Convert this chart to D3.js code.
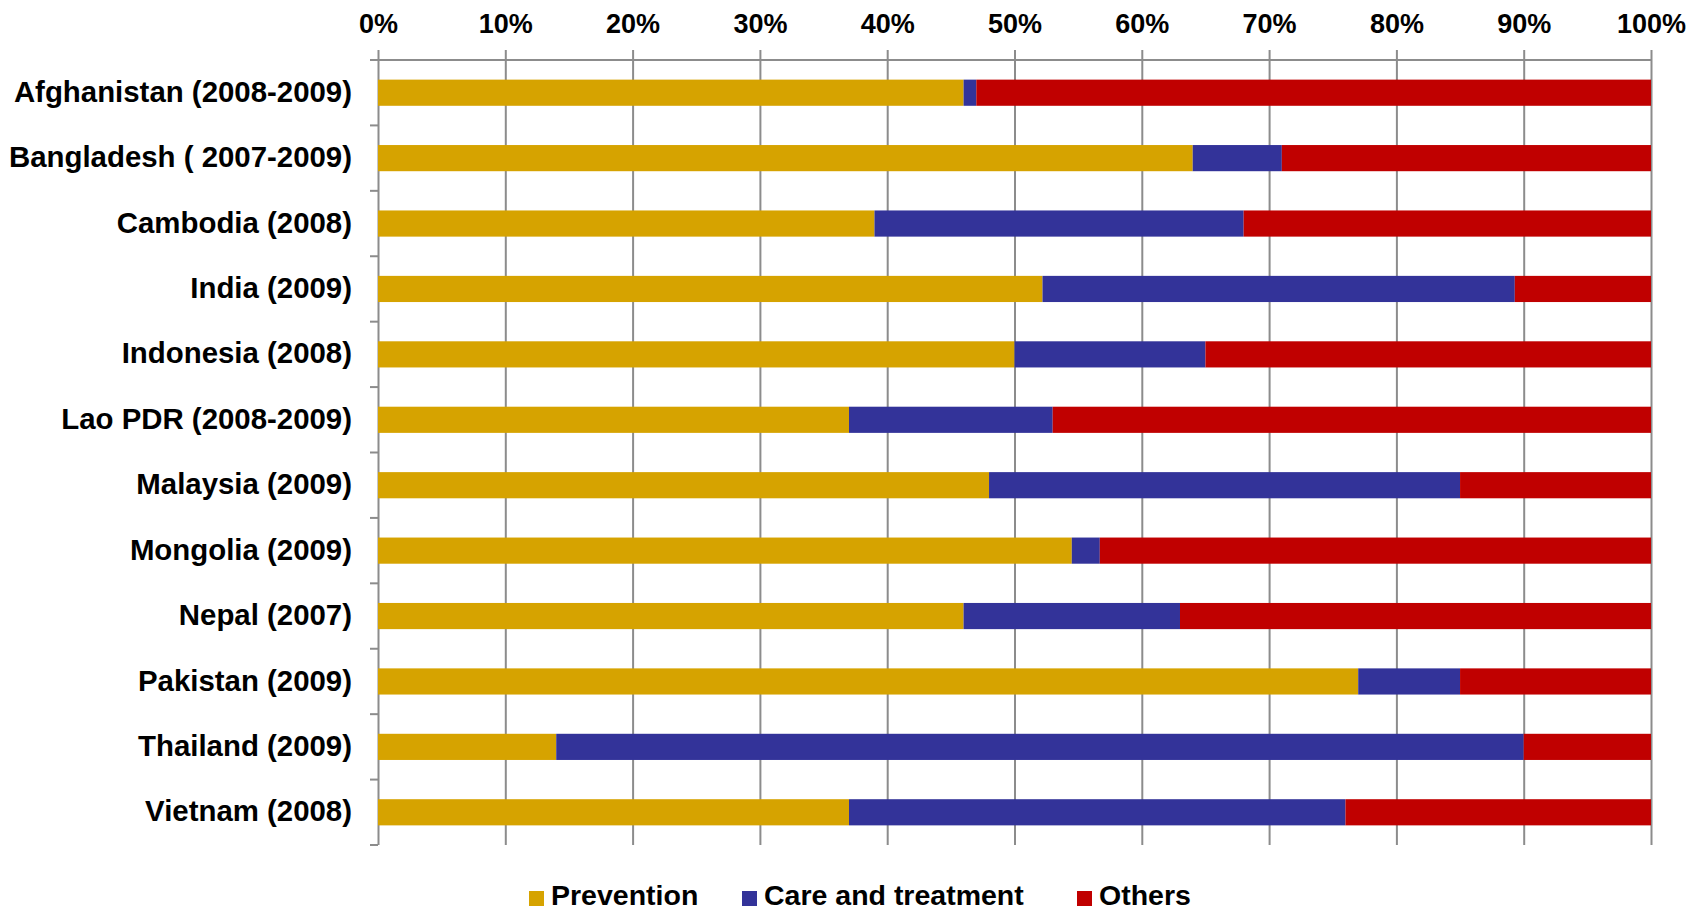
<!DOCTYPE html>
<html>
<head>
<meta charset="utf-8">
<script src="https://cdn.jsdelivr.net/npm/d3@7"></script>
<style>
  body { margin: 0; background: #fff; }
  text { font-family: "Liberation Sans", Arial, sans-serif; font-weight: bold; fill: #000; }
</style>
</head>
<body>
<script>
var width = 1699,
    height = 911;

// data (percent shares)
var countries = ['Afghanistan (2008-2009)', 'Bangladesh ( 2007-2009)', 'Cambodia (2008)', 'India (2009)',
    'Indonesia (2008)', 'Lao PDR (2008-2009)', 'Malaysia (2009)', 'Mongolia (2009)', 'Nepal (2007)',
    'Pakistan (2009)', 'Thailand (2009)', 'Vietnam (2008)'];
var prevention = [46, 64, 39, 52.2, 50, 37, 48, 54.5, 46, 77, 14, 37];
var care = [1, 7, 29, 37.1, 15, 16, 37, 2.2, 17, 8, 76, 39];
var others = [53, 29, 32, 10.7, 35, 47, 15, 43.3, 37, 15, 10, 24];
var seriesNames = ['Prevention', 'Care and treatment', 'Others'];
var seriesKeys = ['prevention', 'care', 'others'];
var colors = ['#D6A300', '#333399', '#C00000'];
var xTicks = [0, 10, 20, 30, 40, 50, 60, 70, 80, 90, 100];

var rows = countries.map(function (c, i) {
    return { country: c, prevention: prevention[i], care: care[i], others: others[i] };
});

var svg = d3.select('body').append('svg').attr('width', width).attr('height', height);

var plotTop = 60, plotBottom = 845, plotLeft = 378, plotRight = 1651;

var x = d3.scaleLinear().domain([0, 100]).range([plotLeft, plotRight]);
var y = d3.scaleBand().domain(countries).range([plotTop, plotBottom]).paddingInner(0.6).paddingOuter(0.3);

// x axis on top, ticks extended as gridlines
var xAxis = svg.append('g')
    .attr('transform', 'translate(0,' + plotTop + ')')
    .call(d3.axisTop(x).tickValues(xTicks).tickFormat(function (d) { return d + '%'; })
        .tickSizeInner(-(plotBottom - plotTop)).tickSizeOuter(0).tickPadding(27));
xAxis.select('.domain').attr('stroke', '#8c8c8c').attr('stroke-width', 2)
    .attr('d', 'M' + (plotLeft - 8) + ',0H' + plotRight);
xAxis.selectAll('.tick line').attr('stroke', '#8c8c8c').attr('stroke-width', 2)
    .attr('y1', -10).attr('y2', plotBottom - plotTop);
xAxis.selectAll('.tick text').attr('fill', '#000')
    .style('font-size', '27px').style('font-family', '"Liberation Sans", Arial, sans-serif');

// category boundary ticks on the left
var step = y.step();
svg.append('g').selectAll('line')
    .data(d3.range(countries.length + 1))
    .enter().append('line')
    .attr('x1', plotLeft - 8).attr('x2', plotLeft)
    .attr('y1', function (d) { return plotTop + d * step; })
    .attr('y2', function (d) { return plotTop + d * step; })
    .attr('stroke', '#8c8c8c').attr('stroke-width', 2);

// stacked bars
var stack = d3.stack().keys(seriesKeys)(rows);
svg.append('g').selectAll('g')
    .data(stack)
    .enter().append('g')
    .attr('fill', function (d, i) { return colors[i]; })
    .selectAll('rect')
    .data(function (d) { return d; })
    .enter().append('rect')
    .attr('x', function (d) { return x(d[0]); })
    .attr('width', function (d) { return x(d[1]) - x(d[0]); })
    .attr('y', function (d) { return y(d.data.country); })
    .attr('height', y.bandwidth());

// category labels
svg.append('g').selectAll('text')
    .data(countries)
    .enter().append('text')
    .attr('x', plotLeft - 26)
    .attr('y', function (d) { return y(d) + y.bandwidth() / 2; })
    .attr('dy', '0.31em')
    .attr('text-anchor', 'end')
    .style('font-size', '29.4px')
    .text(function (d) { return d; });

// legend (item positions as laid out in the original)
var legendX = [529, 742, 1077];
var legend = svg.append('g');
seriesNames.forEach(function (name, i) {
    legend.append('rect')
        .attr('x', legendX[i]).attr('y', 891).attr('width', 15).attr('height', 15)
        .attr('fill', colors[i]);
    legend.append('text')
        .attr('x', legendX[i] + 22).attr('y', 905)
        .style('font-size', '28.5px')
        .text(name);
});
</script>
</body>
</html>
